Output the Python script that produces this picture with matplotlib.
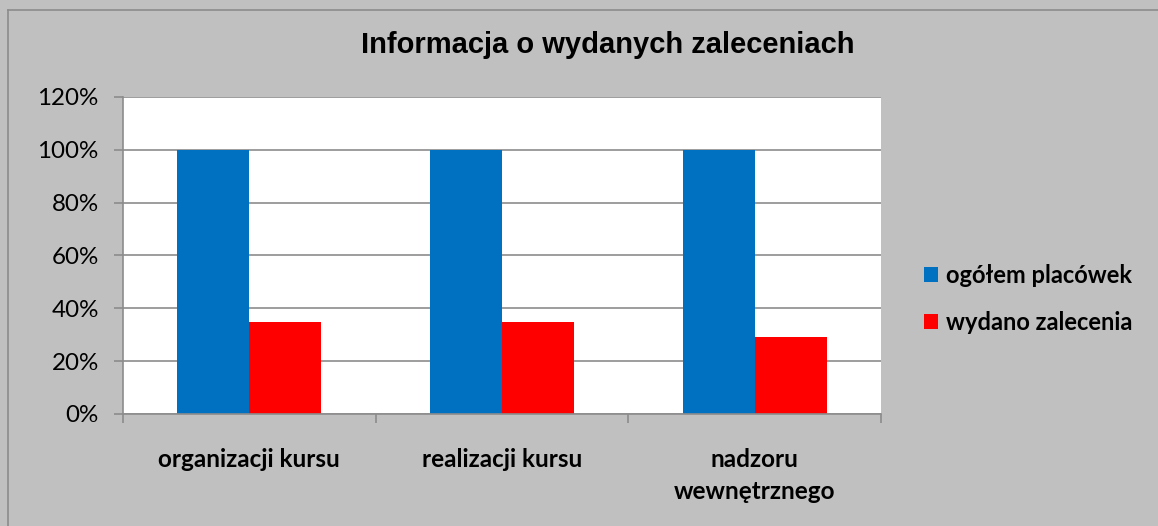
import matplotlib
matplotlib.use("Agg")
import matplotlib.pyplot as plt
import numpy as np
from matplotlib.ticker import FuncFormatter, MultipleLocator
from matplotlib.patches import Patch
from matplotlib.lines import Line2D

title = "Informacja o wydanych zaleceniach"
categories = ["organizacji kursu", "realizacji kursu", "nadzoru\nwewnętrznego"]
series_names = ["ogółem placówek", "wydano zalecenia"]
ogolem = [1.00, 1.00, 1.00]
wydano = [0.35, 0.35, 0.29]
colors = ["#0070C0", "#FF0000"]

W, H = 1158, 526
fig = plt.figure(figsize=(W / 100, H / 100), dpi=100)
fig.patch.set_facecolor("#C0C0C0")

# outer chart border (left and top visible)
fig.add_artist(Line2D([8 / W, 8 / W], [0, 1 - 10 / H], transform=fig.transFigure, color="#8C8C8C", lw=1.2))
fig.add_artist(Line2D([8 / W, 1], [1 - 10 / H, 1 - 10 / H], transform=fig.transFigure, color="#8C8C8C", lw=1.2))

ax = fig.add_axes([123 / W, 1 - 414 / H, (881 - 123) / W, (414 - 97) / H])
ax.set_facecolor("white")

x = np.arange(len(categories))
bw = 0.285
ax.bar(x - bw / 2, ogolem, bw, color=colors[0], zorder=3, label=series_names[0])
ax.bar(x + bw / 2, wydano, bw, color=colors[1], zorder=3, label=series_names[1])

ax.set_xlim(-0.5, len(categories) - 0.5)
ax.set_ylim(0, 1.2)
ax.yaxis.set_major_locator(MultipleLocator(0.2))
ax.yaxis.set_major_formatter(FuncFormatter(lambda v, p: f"{v * 100:.0f}%"))
ax.grid(axis="y", color="#8C8C8C", lw=1.2, zorder=0)

for s in ["top", "right"]:
    ax.spines[s].set_visible(False)
for s in ["left", "bottom"]:
    ax.spines[s].set_color("#8C8C8C")
    ax.spines[s].set_linewidth(1.2)
    ax.spines[s].set_zorder(4)

ax.tick_params(axis="y", length=6.5, width=1.2, color="#8C8C8C", labelsize=17.4, pad=11)
ax.set_xticks(np.arange(-0.5, len(categories), 1.0))
ax.set_xticklabels([])
ax.tick_params(axis="x", length=6.5, width=1.2, color="#8C8C8C")
for lab in ax.get_yticklabels():
    lab.set_fontfamily("Lato")

for xi, c in zip(x, categories):
    ax.text(xi, -0.128, c, ha="center", va="top", fontsize=17.5, fontweight="bold",
            fontfamily="Lato", linespacing=1.5, transform=ax.transData)

fig.text(608 / W, 1 - 45 / H, title, ha="center", va="center", fontsize=21,
         fontweight="bold", fontfamily="Liberation Sans")

handles = [Patch(facecolor=colors[0]), Patch(facecolor=colors[1])]
leg = fig.legend(handles, series_names, loc="center left", bbox_to_anchor=(903 / W, 1 - 299 / H),
                 frameon=False, prop={"family": "Lato", "weight": "bold", "size": 17},
                 handlelength=0.6, handleheight=0.6, handletextpad=0.3, labelspacing=1.0)

fig.savefig("out.png", dpi=100, facecolor=fig.get_facecolor())
